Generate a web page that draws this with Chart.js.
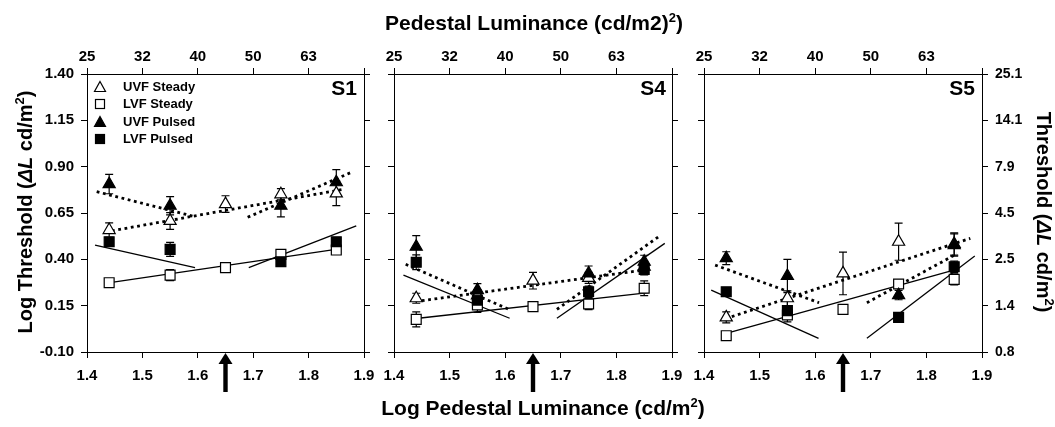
<!DOCTYPE html>
<html><head><meta charset="utf-8">
<script src="https://cdn.jsdelivr.net/npm/chart.js@4.4.1/dist/chart.umd.min.js"></script>
<style>
html,body{margin:0;padding:0;background:#fff;width:1055px;height:427px;overflow:hidden;font-family:"Liberation Sans",Arial,sans-serif;}
#wrap{position:relative;width:1055px;height:427px;}
canvas{position:absolute;left:0;top:0;}
.t{position:absolute;font-weight:bold;white-space:nowrap;color:#000;}
.sup{font-size:13px;position:relative;top:-8px;}
.rot{position:absolute;width:300px;height:20px;line-height:20px;font-size:20px;font-weight:bold;text-align:center;white-space:nowrap;}
.lg{position:absolute;font-size:13px;font-weight:bold;line-height:14px;white-space:nowrap;}
.lgm{position:absolute;}
</style></head><body><div id="wrap">
<canvas id="c1" width="1055" height="427"></canvas>
<canvas id="c4" width="1055" height="427"></canvas>
<canvas id="c5" width="1055" height="427"></canvas>
</div>
<script>
// ---------- data ----------
const xSteady = [1.44, 1.55, 1.65, 1.75, 1.85];
const xPulsed = [1.44, 1.55, 1.75, 1.85];

const xTickValues = [1.4, 1.5, 1.6, 1.7, 1.8, 1.9];
const bottomTickLabels = ['1.4', '1.5', '1.6', '1.7', '1.8', '1.9'];
const topTickLabels = ['25', '32', '40', '50', '63', ''];
const yTickValues = [-0.10, 0.15, 0.40, 0.65, 0.90, 1.15, 1.40];
const leftTickLabels = ['-0.10', '0.15', '0.40', '0.65', '0.90', '1.15', '1.40'];
const rightTickLabels = ['0.8', '1.4', '2.5', '4.5', '7.9', '14.1', '25.1'];
const arrowValue = 1.65;

const legendNames = ['UVF Steady', 'LVF Steady', 'UVF Pulsed', 'LVF Pulsed'];
const panelNames = ['S1', 'S4', 'S5'];

// S1
const s1UvfSteady = [0.558, 0.607, 0.698, 0.751, 0.756];
const s1UvfSteadyErr = [0.039, 0.045, 0.045, 0.030, 0.066];
const s1LvfSteady = [0.274, 0.315, 0.355, 0.427, 0.450];
const s1LvfSteadyErr = [0.010, 0.030, 0.010, 0.020, 0.010];
const s1UvfPulsed = [0.806, 0.689, 0.689, 0.816];
const s1UvfPulsedErr = [0.052, 0.049, 0.060, 0.068];
const s1LvfPulsed = [0.495, 0.454, 0.387, 0.495];
const s1LvfPulsedErr = [0.015, 0.038, 0.010, 0.020];
const s1FitUvfSteady = [[1.445, 0.554], [1.863, 0.778]];
const s1FitUvfPulsedA = [[1.4175, 0.765], [1.595, 0.630]];
const s1FitUvfPulsedB = [[1.690, 0.627], [1.880, 0.873]];
const s1FitLvfSteady = [[1.4415, 0.274], [1.849, 0.454]];
const s1FitLvfPulsedA = [[1.4145, 0.477], [1.595, 0.355]];
const s1FitLvfPulsedB = [[1.692, 0.355], [1.886, 0.580]];

// S4
const s4UvfSteady = [0.190, 0.205, 0.285, 0.300, 0.360];
const s4UvfSteadyErr = [0.027, 0.030, 0.045, 0.030, 0.030];
const s4LvfSteady = [0.076, 0.154, 0.145, 0.159, 0.244];
const s4LvfSteadyErr = [0.040, 0.040, 0.015, 0.030, 0.040];
const s4UvfPulsed = [0.468, 0.234, 0.324, 0.387];
const s4UvfPulsedErr = [0.060, 0.035, 0.040, 0.035];
const s4LvfPulsed = [0.384, 0.180, 0.225, 0.346];
const s4LvfPulsedErr = [0.040, 0.030, 0.030, 0.030];
const s4FitUvfSteady = [[1.450, 0.177], [1.858, 0.346]];
const s4FitUvfPulsedA = [[1.421, 0.373], [1.609, 0.127]];
const s4FitUvfPulsedB = [[1.693, 0.130], [1.880, 0.531]];
const s4FitLvfSteady = [[1.444, 0.082], [1.858, 0.220]];
const s4FitLvfPulsedA = [[1.417, 0.315], [1.608, 0.082]];
const s4FitLvfPulsedB = [[1.693, 0.082], [1.887, 0.486]];

// S5
const s5UvfSteady = [0.087, 0.190, 0.324, 0.495, 0.483];
const s5UvfSteadyErr = [0.030, 0.040, 0.115, 0.100, 0.060];
const s5LvfSteady = [-0.012, 0.100, 0.130, 0.267, 0.292];
const s5LvfSteadyErr = [0.010, 0.020, 0.010, 0.020, 0.030];
const s5UvfPulsed = [0.406, 0.310, 0.207, 0.477];
const s5UvfPulsedErr = [0.035, 0.090, 0.025, 0.060];
const s5LvfPulsed = [0.225, 0.123, 0.087, 0.360];
const s5LvfPulsedErr = [0.010, 0.060, 0.010, 0.030];
const s5FitUvfSteady = [[1.450, 0.091], [1.879, 0.513]];
const s5FitUvfPulsedA = [[1.420, 0.369], [1.607, 0.166]];
const s5FitUvfPulsedB = [[1.693, 0.166], [1.855, 0.430]];
const s5FitLvfSteady = [[1.445, 0.005], [1.846, 0.339]];
const s5FitLvfPulsedA = [[1.413, 0.234], [1.606, -0.026]];
const s5FitLvfPulsedB = [[1.693, -0.026], [1.887, 0.418]];

// ---------- drawing ----------
const FONT = '"Liberation Sans", Arial, sans-serif';
Chart.defaults.font.family = FONT;
Chart.defaults.color = '#000';

const W = 1055, H = 427, TOP = 74, BOTTOM = 352;
const HB = 40, HT = 30, WL = 50, WR = 50;

const errorBarPlugin = {
  id: 'errbars',
  beforeDatasetsDraw(chart) {
    const ctx = chart.ctx, ys = chart.scales.y;
    ctx.save();
    ctx.strokeStyle = '#000'; ctx.lineWidth = 1.2;
    chart.data.datasets.forEach((ds, i) => {
      if (!ds.errors) return;
      const meta = chart.getDatasetMeta(i);
      meta.data.forEach((pt, j) => {
        const v = ds.data[j].y, e = ds.errors[j];
        const x = pt.x;
        const y1 = ys.getPixelForValue(v + e), y2 = ys.getPixelForValue(v - e);
        ctx.beginPath();
        ctx.moveTo(x, y1); ctx.lineTo(x, y2);
        ctx.moveTo(x - 4, y1); ctx.lineTo(x + 4, y1);
        ctx.moveTo(x - 4, y2); ctx.lineTo(x + 4, y2);
        ctx.stroke();
      });
    });
    ctx.restore();
  }
};

const arrowPlugin = {
  id: 'arrow',
  afterDraw(chart) {
    const ctx = chart.ctx;
    const x = chart.scales.x.getPixelForValue(arrowValue);
    const yTip = chart.chartArea.bottom;
    ctx.save();
    ctx.fillStyle = '#000';
    ctx.beginPath();
    ctx.moveTo(x, yTip + 1);
    ctx.lineTo(x - 7, yTip + 12);
    ctx.lineTo(x + 7, yTip + 12);
    ctx.closePath();
    ctx.fill();
    ctx.fillRect(x - 2.2, yTip + 11, 4.4, 29);
    ctx.restore();
  }
};

function pts(xs, ys) { return xs.map((x, i) => ({ x: x, y: ys[i] })); }
function fitDs(pair, dotted) {
  return {
    type: 'line', data: pair.map(p => ({ x: p[0], y: p[1] })),
    borderColor: '#000', borderWidth: dotted ? 2.8 : 1.3,
    borderDash: dotted ? [2.8, 3.6] : [], pointRadius: 0, fill: false, order: 5, tension: 0
  };
}
function markDs(label, xs, ys, errs, style, filled) {
  return {
    type: 'scatter', label: label, data: pts(xs, ys), errors: errs,
    pointStyle: style, pointRadius: 7, pointHoverRadius: 7,
    pointBackgroundColor: filled ? '#000' : '#fff', pointBorderColor: '#000',
    pointBorderWidth: 1.2, backgroundColor: filled ? '#000' : '#fff', borderColor: '#000',
    order: filled ? 1 : 2, showLine: false
  };
}

function axis(position, min, max, values, labels, fontSize, padding, sizeKey, size) {
  return {
    type: 'linear', position: position, min: min, max: max,
    afterBuildTicks: s => { s.ticks = values.map(v => ({ value: v })); },
    ticks: {
      callback: (v, i) => labels ? labels[i] : '',
      font: { size: fontSize, weight: 'bold', family: FONT },
      color: '#000', padding: padding, maxRotation: 0, minRotation: 0, autoSkip: false
    },
    grid: { drawOnChartArea: false, drawTicks: true, tickLength: 6, color: '#000', lineWidth: 1 },
    border: { display: true, color: '#000', width: 1 },
    afterFit: s => { s[sizeKey] = size; }
  };
}

function buildChart(id, left, right, showLeft, showRight, d) {
  const datasets = [
    fitDs(d.fitUvfSteady, true), fitDs(d.fitUvfPulsedA, true), fitDs(d.fitUvfPulsedB, true),
    fitDs(d.fitLvfSteady, false), fitDs(d.fitLvfPulsedA, false), fitDs(d.fitLvfPulsedB, false),
    markDs(legendNames[0], xSteady, d.uvfSteady, d.uvfSteadyErr, 'triangle', false),
    markDs(legendNames[1], xSteady, d.lvfSteady, d.lvfSteadyErr, 'rect', false),
    markDs(legendNames[2], xPulsed, d.uvfPulsed, d.uvfPulsedErr, 'triangle', true),
    markDs(legendNames[3], xPulsed, d.lvfPulsed, d.lvfPulsedErr, 'rect', true)
  ];
  return new Chart(document.getElementById(id), {
    data: { datasets: datasets },
    options: {
      responsive: false, animation: false, events: [],
      layout: { padding: { left: left - WL, right: W - right - WR, top: TOP - HT, bottom: H - BOTTOM - HB } },
      plugins: { legend: { display: false }, tooltip: { enabled: false } },
      scales: {
        x: axis('bottom', 1.4, 1.9, xTickValues, bottomTickLabels, 15, 9, 'height', HB),
        xTop: axis('top', 1.4, 1.9, xTickValues, topTickLabels, 15, 2, 'height', HT),
        y: axis('left', -0.1, 1.4, yTickValues, showLeft ? leftTickLabels : null, 15, 7, 'width', WL),
        yRight: axis('right', -0.1, 1.4, yTickValues, showRight ? rightTickLabels : null, 14, 7, 'width', WR)
      }
    },
    plugins: [errorBarPlugin, arrowPlugin]
  });
}

buildChart('c1', 87, 364, true, false, {
  uvfSteady: s1UvfSteady, uvfSteadyErr: s1UvfSteadyErr, lvfSteady: s1LvfSteady, lvfSteadyErr: s1LvfSteadyErr,
  uvfPulsed: s1UvfPulsed, uvfPulsedErr: s1UvfPulsedErr, lvfPulsed: s1LvfPulsed, lvfPulsedErr: s1LvfPulsedErr,
  fitUvfSteady: s1FitUvfSteady, fitUvfPulsedA: s1FitUvfPulsedA, fitUvfPulsedB: s1FitUvfPulsedB,
  fitLvfSteady: s1FitLvfSteady, fitLvfPulsedA: s1FitLvfPulsedA, fitLvfPulsedB: s1FitLvfPulsedB
});
buildChart('c4', 394, 672, false, false, {
  uvfSteady: s4UvfSteady, uvfSteadyErr: s4UvfSteadyErr, lvfSteady: s4LvfSteady, lvfSteadyErr: s4LvfSteadyErr,
  uvfPulsed: s4UvfPulsed, uvfPulsedErr: s4UvfPulsedErr, lvfPulsed: s4LvfPulsed, lvfPulsedErr: s4LvfPulsedErr,
  fitUvfSteady: s4FitUvfSteady, fitUvfPulsedA: s4FitUvfPulsedA, fitUvfPulsedB: s4FitUvfPulsedB,
  fitLvfSteady: s4FitLvfSteady, fitLvfPulsedA: s4FitLvfPulsedA, fitLvfPulsedB: s4FitLvfPulsedB
});
buildChart('c5', 704, 982, false, true, {
  uvfSteady: s5UvfSteady, uvfSteadyErr: s5UvfSteadyErr, lvfSteady: s5LvfSteady, lvfSteadyErr: s5LvfSteadyErr,
  uvfPulsed: s5UvfPulsed, uvfPulsedErr: s5UvfPulsedErr, lvfPulsed: s5LvfPulsed, lvfPulsedErr: s5LvfPulsedErr,
  fitUvfSteady: s5FitUvfSteady, fitUvfPulsedA: s5FitUvfPulsedA, fitUvfPulsedB: s5FitUvfPulsedB,
  fitLvfSteady: s5FitLvfSteady, fitLvfPulsedA: s5FitLvfPulsedA, fitLvfPulsedB: s5FitLvfPulsedB
});

// ---------- text ----------
const wrap = document.getElementById('wrap');
function addDiv(cls, html, style) {
  const d = document.createElement('div');
  d.className = cls; d.innerHTML = html; Object.assign(d.style, style); wrap.appendChild(d); return d;
}
addDiv('t', 'Pedestal Luminance (cd/m2)<span class="sup">2</span>)',
  { left: '534px', top: '12px', fontSize: '21px', lineHeight: '21px', transform: 'translateX(-50%)' });
addDiv('t', 'Log Pedestal Luminance (cd/m<span class="sup">2</span>)',
  { left: '543px', top: '397px', fontSize: '21px', lineHeight: '21px', transform: 'translateX(-50%)' });
addDiv('rot', 'Log Threshold (<i>&Delta;L</i> cd/m<span class="sup">2</span>)',
  { left: (25 - 150) + 'px', top: (212 - 10) + 'px', transform: 'rotate(-90deg)' });
addDiv('rot', 'Threshold (<i>&Delta;L</i> cd/m<span class="sup">2</span>)',
  { left: (1044 - 150) + 'px', top: (212 - 10) + 'px', transform: 'rotate(90deg)' });

const panelRights = [357, 666, 975];
panelNames.forEach((n, i) => {
  addDiv('t', n, { left: (panelRights[i] - 100) + 'px', width: '100px', textAlign: 'right', top: '77px', fontSize: '21px', lineHeight: '21px' });
});

const legendRows = [86.7, 104.3, 121.7, 139.3];
const legendSvgs = [
  '<svg width="14" height="14"><polygon points="7,1.5 12.5,11.5 1.5,11.5" fill="#fff" stroke="#000" stroke-width="1.2"/></svg>',
  '<svg width="14" height="14"><rect x="2.5" y="2.5" width="9" height="9" fill="#fff" stroke="#000" stroke-width="1.2"/></svg>',
  '<svg width="14" height="14"><polygon points="7,1.5 12.5,11.5 1.5,11.5" fill="#000" stroke="#000" stroke-width="1.2"/></svg>',
  '<svg width="14" height="14"><rect x="2.5" y="2.5" width="9" height="9" fill="#000" stroke="#000" stroke-width="1.2"/></svg>'
];
legendNames.forEach((n, i) => {
  addDiv('lgm', legendSvgs[i], { left: '93px', top: (legendRows[i] - 7) + 'px', width: '14px', height: '14px', lineHeight: '0' });
  addDiv('lg', n, { left: '123px', top: (legendRows[i] - 7) + 'px' });
});
</script>
</body></html>
